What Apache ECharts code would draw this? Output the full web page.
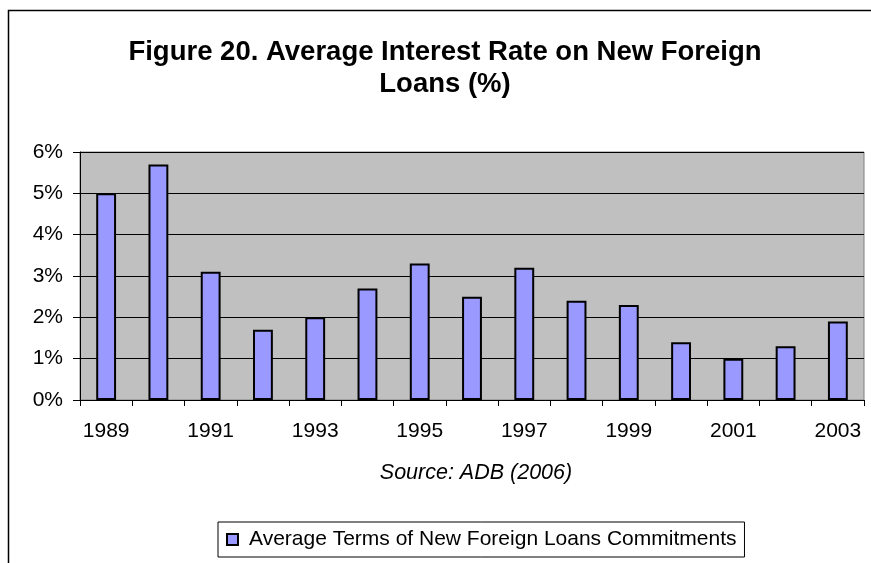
<!DOCTYPE html>
<html>
<head>
<meta charset="utf-8">
<script src="https://cdn.jsdelivr.net/npm/echarts@6/dist/echarts.min.js"></script>
<style>
  html, body { margin: 0; padding: 0; background: #fff; }
  #chart { width: 871px; height: 563px; }
</style>
</head>
<body>
<div id="chart"></div>
<script>
// Average interest rate on new foreign loan commitments, 1989-2003 (%)
const years = ['1989','1990','1991','1992','1993','1994','1995','1996','1997','1998','1999','2000','2001','2002','2003'];
const rates = [5.0, 5.7, 3.1, 1.7, 2.0, 2.7, 3.3, 2.5, 3.2, 2.4, 2.3, 1.4, 1.0, 1.3, 1.9];
const seriesName = 'Average Terms of New Foreign Loans Commitments';
const yTicks = { min: 0, max: 6, step: 1 };

const chart = echarts.init(document.getElementById('chart'), null, { renderer: 'canvas' });
const font = 'Liberation Sans, Arial, sans-serif';

chart.setOption({
  animation: false,
  backgroundColor: '#fff',
  title: [
    {
      text: 'Figure 20. Average Interest Rate on New Foreign\nLoans (%)',
      left: 440,
      top: 31,
      textAlign: 'center',
      textStyle: { fontFamily: font, fontSize: 27.5, fontWeight: 'bold', color: '#000', lineHeight: 32 }
    },
    {
      text: 'Source: ADB (2006)',
      left: 471,
      top: 457,
      textAlign: 'center',
      textStyle: { fontFamily: font, fontSize: 21.5, fontStyle: 'italic', fontWeight: 'normal', color: '#000' }
    }
  ],
  legend: {
    data: [seriesName],
    left: 218,
    top: 522,
    padding: [7, 8, 7, 8],
    borderColor: '#000',
    borderWidth: 1,
    itemWidth: 11,
    itemHeight: 11,
    itemGap: 10,
    icon: 'rect',
    textStyle: { fontFamily: font, fontSize: 21, color: '#000', padding: [0, 0, 0, 6] }
  },
  grid: {
    left: 80, top: 152, right: 7, bottom: 163,
    show: true,
    backgroundColor: '#C0C0C0',
    borderColor: '#808080',
    borderWidth: 1
  },
  xAxis: {
    type: 'category',
    data: years,
    boundaryGap: true,
    axisLine: { lineStyle: { color: '#000', width: 1 } },
    axisTick: { show: true, interval: 0, length: 6, lineStyle: { color: '#000' } },
    axisLabel: { interval: 1, margin: 21, fontFamily: font, fontSize: 21, color: '#000' }
  },
  yAxis: {
    type: 'value',
    min: yTicks.min,
    max: yTicks.max,
    interval: yTicks.step,
    axisLine: { show: true, lineStyle: { color: '#000', width: 1 } },
    axisTick: { show: true, length: 7, lineStyle: { color: '#000' } },
    axisLabel: { formatter: '{value}%', margin: 17, fontFamily: font, fontSize: 21, color: '#000' },
    splitLine: { show: true, lineStyle: { color: '#000', width: 1 } }
  },
  series: [{
    name: seriesName,
    type: 'bar',
    data: rates,
    barWidth: '38%',
    itemStyle: { color: '#9999FF', borderColor: '#000', borderWidth: 2 }
  }],
  graphic: [{
    type: 'rect',
    shape: { x: 8.5, y: 10.5, width: 900, height: 600 },
    style: { fill: 'none', stroke: '#000', lineWidth: 1.5 },
    silent: true,
    z: 100
  }]
});
</script>
</body>
</html>
